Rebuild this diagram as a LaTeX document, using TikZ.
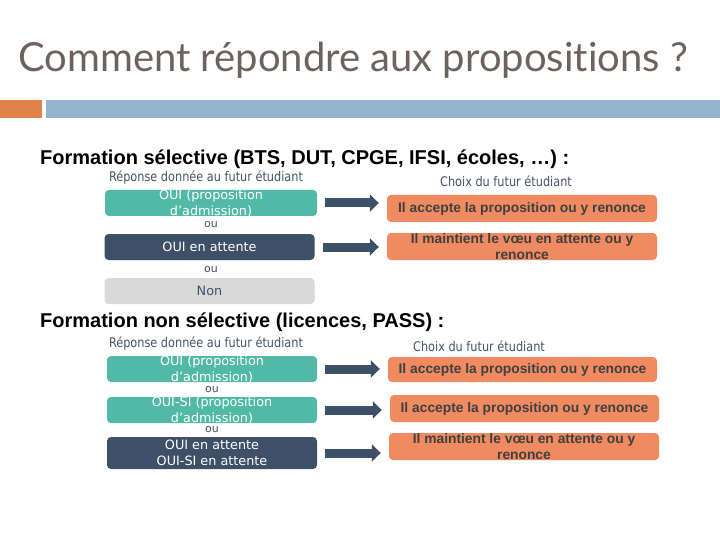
\documentclass[tikz,border=0pt]{standalone}
\usepackage{fontspec}
\setmainfont{Liberation Sans}
\newfontfamily\titlefont[Ligatures={NoCommon,NoDiscretionary}]{Lato}
\newfontfamily\boxfont{DejaVu Sans}
\newfontfamily\capfont[FakeStretch=0.85]{DejaVu Sans}
\usetikzlibrary{arrows.meta, positioning, calc}
\definecolor{titlegray}{HTML}{6E625C}
\definecolor{barorange}{HTML}{E0834A}
\definecolor{barblue}{HTML}{95B3D0}
\definecolor{okteal}{HTML}{52B9A6}
\definecolor{waitnavy}{HTML}{3E5068}
\definecolor{nogray}{HTML}{D9D9D9}
\definecolor{choiceorange}{HTML}{F08A60}
\definecolor{choicetext}{HTML}{404040}
\definecolor{labelnavy}{HTML}{44546A}

\begin{document}
\begin{tikzpicture}[x=1pt, y=-1pt,
  rep/.style={rounded corners=4pt, minimum width=210pt, minimum height=26pt, inner sep=0pt},
  reptext/.style={font=\boxfont\fontsize{12.8}{16}\selectfont, align=center, text=white},
  choice/.style={fill=choiceorange, rounded corners=4pt, minimum width=270pt, minimum height=27pt, inner sep=0pt},
  choicetext/.style={align=center, text=choicetext, font=\bfseries\fontsize{13.8}{16}\selectfont},
  head/.style={anchor=west, inner sep=0pt, font=\bfseries\fontsize{20}{24}\selectfont},
  hint/.style={inner sep=0pt, font=\capfont\fontsize{13.3}{15}\selectfont, text=labelnavy},
  ou/.style={inner sep=0pt, font=\boxfont\fontsize{11}{13}\selectfont, text=labelnavy},
  arr/.style={draw=waitnavy, line width=9pt, -{Triangle[length=9pt, width=17pt]}, shorten <=8pt, shorten >=8pt}]
  \fill[white] (0,0) rectangle (720,540);
  \useasboundingbox (0,0) rectangle (720,540);
  \node[anchor=base west, inner sep=0pt, text=titlegray, font=\titlefont\fontsize{40}{44}\selectfont] (title) at (18,72) {Comment répondre aux propositions ?};
  \fill[barorange] (0,100) rectangle (42,118);
  \fill[barblue] (46,100) rectangle (720,118);
  % formation selective
  \node[head] (h1) at (40,159) {Formation sélective (BTS, DUT, CPGE, IFSI, écoles, …) :};
  \node[hint] (r1) at (206,178) {Réponse donnée au futur étudiant};
  \node[hint] (k1) at (506,181) {Choix du futur étudiant};
  \node[rep, fill=okteal, minimum width=212pt] (s1) at (211,203) {};
  \node[reptext] at (s1) {OUI (proposition\\d’admission)};
  \node[ou] (o1) at (211,224) {ou};
  \node[rep, fill=waitnavy] (s2) at (209.5,247) {};
  \node[reptext] at (s2) {OUI en attente};
  \node[ou] (o2) at (211,269) {ou};
  \node[rep, fill=nogray] (s3) at (209.5,291) {};
  \node[reptext, text=waitnavy] at (s3) {Non};
  \node[choice] (c1) at (522,208.5) {};
  \node[choicetext] at (c1) {Il accepte la proposition ou y renonce};
  \node[choice] (c2) at (522,246.5) {};
  \node[choicetext] at (c2) {Il maintient le vœu en attente ou y\\renonce};
  % formation non selective
  \node[head] (h2) at (40,322) {Formation non sélective (licences, PASS) :};
  \node[hint] (r2) at (206,344) {Réponse donnée au futur étudiant};
  \node[hint] (k2) at (479,346) {Choix du futur étudiant};
  \node[rep, fill=okteal] (n1) at (212,369) {};
  \node[reptext] at (n1) {OUI (proposition\\d’admission)};
  \node[ou] (o3) at (212,389) {ou};
  \node[rep, fill=okteal] (n2) at (212,410) {};
  \node[reptext] at (n2) {OUI-SI (proposition\\d’admission)};
  \node[ou] (o4) at (212,429) {ou};
  \node[rep, fill=waitnavy, minimum height=32pt] (n3) at (212,453) {};
  \node[reptext] at (n3) {OUI en attente\\OUI-SI en attente};
  \node[choice, minimum width=269pt, minimum height=25pt] (d1) at (522.5,369.5) {};
  \node[choicetext] at (d1) {Il accepte la proposition ou y renonce};
  \node[choice, minimum width=269pt] (d2) at (524.5,408.5) {};
  \node[choicetext] at (d2) {Il accepte la proposition ou y renonce};
  \node[choice] (d3) at (524,446.5) {};
  \node[choicetext] at (d3) {Il maintient le vœu en attente ou y\\renonce};
  \foreach \a/\b in {s1/c1, s2/c2, n1/d1, n2/d2, n3/d3}
    \draw[arr] (\a.east) -- (\a.east -| \b.west);
\end{tikzpicture}
\end{document}
